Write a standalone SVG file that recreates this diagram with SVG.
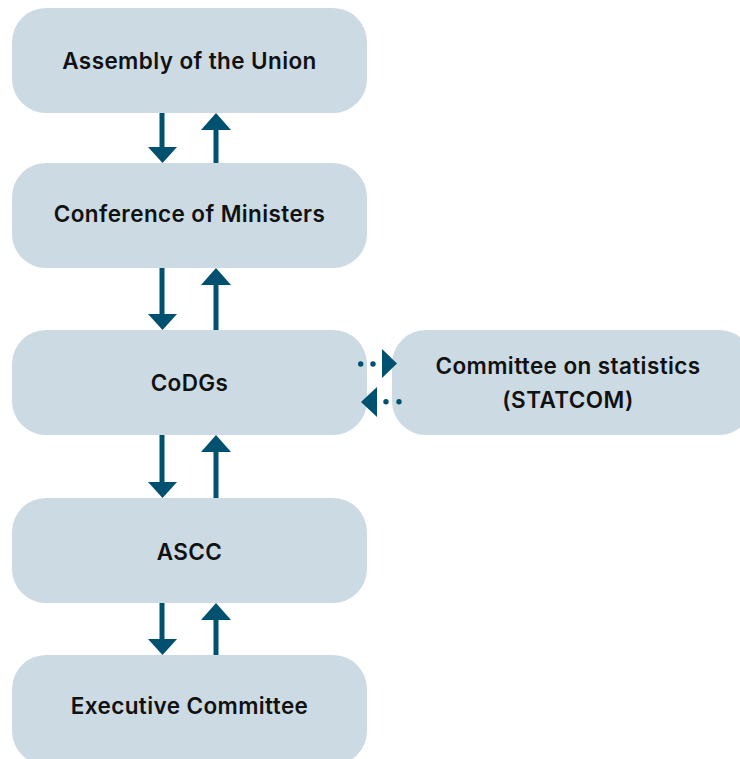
<svg xmlns="http://www.w3.org/2000/svg" width="740" height="759" viewBox="0 0 740 759">
<style>
.box{fill:#ccdae3}
.lbl{font-family:Inter,"Liberation Sans",Arial,sans-serif;font-weight:600;font-size:22.5px;letter-spacing:0.4px;fill:#111;text-anchor:middle;dominant-baseline:central}
.arr{fill:#00506f}
</style>
<rect width="740" height="759" fill="#fff"/>
<g id="assembly"><rect class="box" x="12" y="8" width="355" height="105" rx="34"/><text class="lbl" x="189.5" y="60">Assembly of the Union</text></g>
<g id="conference"><rect class="box" x="12" y="163" width="355" height="105" rx="34"/><text class="lbl" x="189.5" y="213">Conference of Ministers</text></g>
<g id="codgs"><rect class="box" x="12" y="330" width="355" height="105" rx="34"/><text class="lbl" x="189.5" y="382">CoDGs</text></g>
<g id="statcom"><rect class="box" x="392" y="330" width="361" height="105" rx="34"/><text class="lbl" x="568" y="365">Committee on statistics</text><text class="lbl" x="568" y="399">(STATCOM)</text></g>
<g id="ascc"><rect class="box" x="12" y="498" width="355" height="105" rx="34"/><text class="lbl" x="189.5" y="551">ASCC</text></g>
<g id="exec"><rect class="box" x="12" y="655" width="355" height="110" rx="34"/><text class="lbl" x="189.5" y="705">Executive Committee</text></g>
<g id="connectors" class="arr">
<g id="a1"><rect x="159.5" y="113" width="5" height="35"/><polygon points="148,147 177,147 162.5,163"/><rect x="213.5" y="129" width="5" height="34"/><polygon points="201,130 231,130 216,113"/></g>
<g id="a2"><rect x="159.5" y="268" width="5" height="47"/><polygon points="148,314 177,314 162.5,330"/><rect x="213.5" y="284" width="5" height="46"/><polygon points="201,285 231,285 216,268"/></g>
<g id="a3"><rect x="159.5" y="435" width="5" height="48"/><polygon points="148,482 177,482 162.5,498"/><rect x="213.5" y="451" width="5" height="47"/><polygon points="201,452 231,452 216,435"/></g>
<g id="a4"><rect x="159.5" y="603" width="5" height="37"/><polygon points="148,639 177,639 162.5,655"/><rect x="213.5" y="619" width="5" height="36"/><polygon points="201,620 231,620 216,603"/></g>
<g id="a5"><circle cx="360.7" cy="364" r="2.7"/><circle cx="373" cy="364" r="2.7"/><polygon points="382,349 397,363.5 382,378"/></g>
<g id="a6"><circle cx="386" cy="401.7" r="2.7"/><circle cx="399" cy="401.7" r="2.7"/><polygon points="377,387 361,402 377,417"/></g>
</g>
</svg>
